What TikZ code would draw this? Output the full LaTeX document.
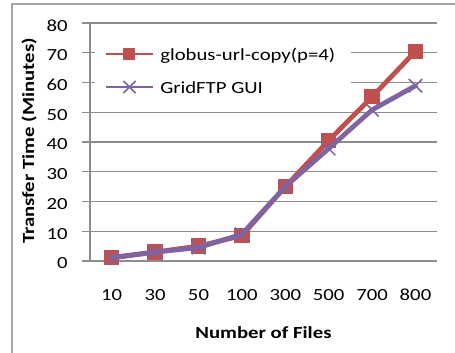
\documentclass[tikz,border=0pt]{standalone}
\usepackage{fontspec}
\usepackage{graphicx}
\setmainfont{Carlito}
\usetikzlibrary{shapes.misc}
\definecolor{serred}{HTML}{C0504D}
\definecolor{serpurple}{HTML}{8064A2}
\definecolor{gridgrey}{HTML}{8C8C8C}
\definecolor{framegrey}{HTML}{A6A6A6}
\newcommand\sx[1]{\scalebox{1.22}[1]{#1}}
\tikzset{
  gridln/.style={gridgrey, line width=1pt},
  lbl/.style={inner sep=0pt, font=\fontsize{12.75pt}{14pt}\selectfont},
  redln/.style={serred, line width=3.6pt, line join=round, line cap=round},
  purln/.style={serpurple, line width=3.6pt, line join=round, line cap=round},
  rsq/.style={rectangle, fill=serred, inner sep=0pt, minimum size=11.5pt},
  pcross/.style={cross out, draw=serpurple, line width=1.1pt, inner sep=0pt, minimum size=9pt},
}
\begin{document}
\begin{tikzpicture}[x=0.75pt, y=-0.75pt]
\useasboundingbox (0,0) rectangle (455,353);
% frame
\draw[framegrey, line width=1.6pt] (12,353) -- (12,4) -- (455,4);
% gridlines and y labels
\foreach \v in {0,10,...,80}{
  \pgfmathsetmacro\yy{261-\v*2.975}
  \draw[gridln] (82,\yy) -- (437,\yy);
  \node[lbl, anchor=east] (ylab\v) at (68,\yy+2.5) {\sx{\v}};
}
% legend background (hides grid)
\fill[white] (95,30) rectangle (351,105);
% axes
\draw[gridln] (90,23) -- (90,261) -- (437,261);
% x labels
\foreach \c [count=\i from 0] in {10,30,50,100,300,500,700,800}{
  \node[lbl] (xlab\i) at (111.7+43.4*\i,295) {\sx{\c}};
}
% axis titles
\node[lbl, font=\fontsize{12.75pt}{14pt}\selectfont\bfseries] (xtitle) at (263.5,333) {\sx{Number of Files}};
\node[lbl, font=\fontsize{12.75pt}{14pt}\selectfont\bfseries, rotate=90] (ytitle) at (29,141) {\sx{Transfer Time (Minutes)}};
% data coordinates
\foreach \v [count=\i from 0] in {1.2,3,5,8.5,25,40.5,55.2,70.5}{
  \coordinate (r\i) at (111.7+43.4*\i,261-\v*2.975);
}
\foreach \v [count=\i from 0] in {1,3,4.5,9,25,37.8,50.8,58.9}{
  \coordinate (p\i) at (111.7+43.4*\i,261-\v*2.975);
}
% red series
\draw[redln] (r0) \foreach \i in {1,...,7}{ -- (r\i)};
\foreach \i in {0,...,7}{ \node[rsq] (rm\i) at (r\i) {}; }
% purple series
\draw[purln] (p0) \foreach \i in {1,...,7}{ -- (p\i)};
\foreach \i in {0,...,7}{ \node[pcross] (pm\i) at (p\i) {}; }
% legend
\coordinate (la1) at (106,54);
\coordinate (lb1) at (153,54);
\coordinate (la2) at (106,87);
\coordinate (lb2) at (153,87);
\draw[serred, line width=2.2pt] (la1) -- (lb1);
\node[rsq, minimum size=9pt] (lm1) at (129.5,54) {};
\node[lbl, anchor=west] (lt1) at (160,56) {\sx{globus-url-copy(p=4)}};
\draw[serpurple, line width=2.2pt] (la2) -- (lb2);
\node[pcross, minimum size=8pt] (lm2) at (129.5,87) {};
\node[lbl, anchor=west] (lt2) at (160,88) {\sx{GridFTP GUI}};
\end{tikzpicture}
\end{document}
